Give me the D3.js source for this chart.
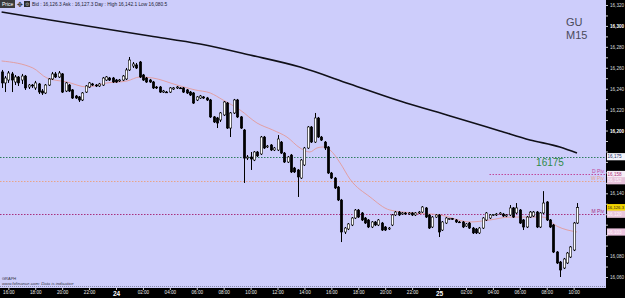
<!DOCTYPE html>
<html><head><meta charset="utf-8">
<script src="https://cdn.jsdelivr.net/npm/d3@7"></script>
<style>html,body{margin:0;padding:0;background:#000;overflow:hidden}svg{display:block;font-family:"Liberation Sans",Arial,sans-serif}</style>
</head><body><svg id="c" width="625" height="298"></svg>
<script>
// ---- data ----
const open=[16256.0,16245.5,16248.3,16254.1,16246.4,16251.2,16248.3,16252.1,16241.6,16243.5,
16240.7,16244.5,16237.8,16235.9,16243.5,16249.3,16254.1,16251.2,16254.1,16237.8,
16243.5,16238.8,16233.0,16232.1,16229.2,16236.8,16241.6,16244.5,16243.5,16242.6,
16243.5,16248.3,16250.2,16250.2,16248.3,16247.4,16248.3,16249.3,16257.9,16261.7,
16262.7,16265.5,16253.1,16250.2,16248.3,16246.4,16241.6,16241.6,16236.8,16236.8,
16236.8,16239.7,16240.7,16240.7,16240.7,16238.8,16236.8,16235.9,16229.2,16231.1,
16232.1,16231.1,16229.2,16213.0,16212.0,16210.1,16214.9,16226.3,16202.4,16216.8,
16229.2,16213.0,16200.5,16173.7,16174.7,16171.8,16179.5,16177.6,16193.8,16184.3,
16186.2,16181.4,16181.4,16189.0,16178.5,16169.9,16176.6,16164.2,16162.3,16154.6,
16167.1,16183.3,16203.4,16189.0,16212.0,16193.8,16189.0,16184.3,16159.4,16154.6,
16146.0,16133.6,16103.0,16105.9,16109.7,16116.4,16124.0,16121.2,16116.4,16114.5,
16107.8,16112.6,16109.7,16111.6,16107.8,16105.9,16109.7,16119.3,16122.1,16120.2,
16121.2,16120.2,16121.2,16119.3,16121.2,16122.1,16126.0,16119.3,16107.8,16117.3,
16119.3,16104.9,16111.6,16115.4,16115.9,16114.5,16112.6,16112.6,16108.7,16111.6,
16106.8,16105.9,16102.1,16106.8,16114.5,16116.4,16119.3,16119.3,16120.2,16120.2,
16118.3,16119.3,16126.0,16121.2,16124.0,16114.5,16107.8,16117.3,16118.3,16122.1,
16107.8,16121.2,16131.7,16114.5,16109.7,16083.9,16074.3,16068.6,16073.4,16079.1,
16085.8,16111.6];
const high=[16257.9,16252.1,16256.9,16256.0,16253.1,16252.1,16254.1,16253.1,16244.5,16244.5,
16247.4,16245.5,16239.7,16244.5,16250.2,16256.0,16256.0,16256.9,16255.0,16246.4,
16244.5,16239.7,16234.0,16233.0,16236.8,16243.5,16246.4,16245.5,16244.5,16245.5,
16251.2,16252.1,16251.2,16251.2,16249.3,16249.3,16253.1,16259.8,16270.3,16265.5,
16264.6,16266.5,16254.1,16251.2,16249.3,16247.4,16242.6,16242.6,16238.8,16237.8,
16241.6,16241.6,16242.6,16241.6,16241.6,16239.7,16237.8,16236.8,16233.0,16234.0,
16233.0,16232.1,16230.2,16213.9,16213.0,16217.7,16228.2,16227.3,16217.7,16230.2,
16230.2,16213.9,16201.5,16176.6,16179.5,16180.4,16180.4,16194.8,16194.8,16186.2,
16187.1,16184.3,16195.7,16190.0,16179.5,16175.7,16177.6,16165.2,16163.2,16172.8,
16184.3,16204.3,16204.3,16216.8,16213.0,16194.8,16190.0,16185.2,16160.4,16155.6,
16147.0,16134.6,16107.8,16111.6,16117.3,16125.0,16125.0,16122.1,16117.3,16115.4,
16113.5,16113.5,16115.4,16112.6,16108.7,16107.8,16120.2,16123.1,16123.1,16122.1,
16122.1,16122.1,16122.1,16122.1,16123.1,16127.8,16126.9,16120.2,16118.3,16120.2,
16120.2,16113.5,16117.3,16116.4,16116.4,16115.4,16113.5,16113.5,16111.6,16112.6,
16107.8,16106.8,16107.8,16117.3,16122.1,16120.2,16120.2,16121.2,16122.1,16121.2,
16120.2,16128.8,16126.9,16130.7,16125.0,16115.4,16118.3,16123.1,16123.1,16123.1,
16122.1,16142.1,16132.6,16115.4,16110.7,16084.8,16075.3,16078.2,16083.9,16089.6,
16112.6,16130.7];
const low=[16240.7,16236.8,16245.5,16236.8,16243.5,16242.6,16244.5,16238.8,16239.7,16240.7,
16238.8,16234.9,16234.0,16234.9,16242.6,16248.3,16250.2,16250.2,16235.9,16236.8,
16236.8,16230.2,16230.2,16227.3,16228.2,16235.9,16240.7,16242.6,16241.6,16241.6,
16242.6,16247.4,16247.4,16245.5,16245.5,16246.4,16247.4,16248.3,16256.9,16259.8,
16258.8,16250.2,16247.4,16245.5,16245.5,16239.7,16239.7,16235.9,16235.9,16235.9,
16235.9,16238.8,16239.7,16239.7,16235.9,16234.9,16233.0,16225.4,16228.2,16230.2,
16230.2,16228.2,16212.0,16207.2,16202.4,16208.2,16213.9,16201.5,16193.8,16215.8,
16212.0,16201.5,16149.9,16171.8,16162.3,16170.8,16174.7,16176.6,16182.4,16183.3,
16180.4,16180.4,16180.4,16177.6,16169.0,16169.0,16159.4,16159.4,16136.5,16153.7,
16166.1,16182.4,16188.1,16188.1,16192.9,16190.0,16181.4,16158.5,16153.7,16144.1,
16132.6,16093.4,16101.1,16104.9,16108.7,16115.4,16116.4,16113.5,16110.7,16106.8,
16106.8,16108.7,16108.7,16104.0,16104.0,16104.9,16108.7,16118.3,16118.3,16119.3,
16119.3,16119.3,16118.3,16118.3,16120.2,16121.2,16116.4,16105.9,16106.8,16116.4,
16098.2,16104.0,16110.7,16114.5,16114.5,16111.6,16111.6,16106.8,16107.8,16105.9,
16101.1,16101.1,16101.1,16105.9,16113.5,16115.4,16118.3,16118.3,16119.3,16117.3,
16117.3,16118.3,16116.4,16120.2,16110.7,16104.9,16106.8,16116.4,16117.3,16106.8,
16106.8,16120.2,16113.5,16106.8,16082.9,16072.4,16060.0,16067.6,16072.4,16078.2,
16084.8,16110.7];
const close=[16245.5,16250.2,16255.0,16248.3,16251.2,16245.5,16252.1,16240.7,16243.5,16242.6,
16245.5,16236.8,16235.9,16243.5,16249.3,16254.1,16251.2,16255.0,16236.8,16245.5,
16237.8,16231.1,16231.1,16229.2,16235.9,16242.6,16245.5,16243.5,16242.6,16244.5,
16250.2,16251.2,16248.3,16246.4,16246.4,16248.3,16252.1,16257.9,16267.4,16263.6,
16259.8,16251.2,16248.3,16246.4,16246.4,16240.7,16240.7,16236.8,16237.8,16236.5,
16240.7,16240.7,16241.6,16240.2,16236.8,16235.9,16234.0,16226.3,16232.1,16233.0,
16231.1,16229.2,16213.0,16208.2,16207.2,16216.8,16227.3,16202.4,16216.8,16229.2,
16213.0,16202.4,16173.7,16174.7,16172.8,16179.5,16175.7,16193.8,16183.3,16185.2,
16181.4,16183.3,16191.9,16178.5,16169.9,16174.7,16160.4,16160.4,16155.6,16171.8,
16183.3,16203.4,16189.0,16212.0,16193.8,16190.9,16183.3,16159.4,16154.6,16145.1,
16133.6,16103.0,16106.8,16110.7,16116.4,16124.0,16117.3,16114.5,16111.6,16107.8,
16112.6,16109.7,16114.5,16104.9,16104.9,16106.8,16119.3,16122.1,16119.3,16121.2,
16120.2,16121.2,16119.3,16121.2,16122.1,16126.9,16117.3,16106.8,16117.3,16119.3,
16103.0,16112.6,16116.4,16115.9,16115.4,16112.6,16112.2,16107.8,16110.7,16106.8,
16102.1,16102.1,16106.8,16116.4,16121.2,16119.3,16119.8,16120.2,16121.2,16118.3,
16119.3,16126.0,16117.3,16126.0,16111.6,16107.8,16117.3,16122.1,16122.1,16107.8,
16121.2,16130.7,16114.5,16107.8,16083.9,16073.4,16066.7,16077.2,16082.9,16088.7,
16111.6,16126.3];
const firstCandleHour=15.5, candleHours=0.25; // 15-minute bars starting 23rd 15:30

// moving averages (candle index, price)
const maFastIdx=[0,9.3,13.5,19.4,25.4,31.3,37.3,41.1,45,52.1,57.5,62,65.8,70.9,75.9,80.6,84.8,88.7,91.6,93.7,95.5,97.6,100.6,103.5,109.5,115.4,122.3,130.3,139.2,145.1,151.1,157,160.9,165.1,171];
const maFastVal=[16266.5,16259.8,16250.2,16246.4,16241.6,16245.5,16247.4,16251.2,16250.2,16243.5,16238.8,16235.9,16229.2,16219.6,16207.2,16200.5,16193.8,16183.3,16179.5,16183.3,16184.3,16181.4,16169.0,16153.7,16136.5,16124.0,16121.2,16119.3,16112.6,16114.5,16117.3,16117.3,16117.3,16108.5,16103.0];
const maSlowIdx=[0,14.4,29.2,44.1,59,73.8,88.7,103.5,118.4,133.3,148.1,157,165.9,171];
const maSlowVal=[16313.3,16305.7,16298.0,16290.4,16282.7,16272.2,16260.7,16244.5,16228.2,16213.9,16199.6,16191.0,16184.3,16178.5];

// levels
const levelNames=["16175","D Piv","W Piv","M Piv"];
const levelValues=[16175,16158,16152,16120];
const levelStartIdx=[0,145,0,0];

// axes
const timeTickHours=[16,18,20,22,24,26,28,30,32,34,36,38,40,42,44,46,48,50,52,54,56,58];
const timeTickLabels=["16:00","18:00","20:00","22:00","24","02:00","04:00","06:00","08:00","10:00","12:00","14:00","16:00","18:00","20:00","22:00","25","02:00","04:00","06:00","08:00","10:00"];
const priceTicks=[16320,16300,16280,16260,16240,16220,16200,16140,16080,16060];
const boxValues=[16175,16158,16152,16126.3,16120,16103];
const boxLabels=["16,175","16,158","16,152","16,126.3","16,120","16,103"];
const headerText="Bid : 16,126.3  Ask : 16,127.3   Day : High 16,142.1  Low 16,080.5";
const symbolLines=["GU","M15"];

// ---- drawing ----
const W=625,H=298,plotR=606,plotB=288;
const svg=d3.select('#c');
svg.append('rect').attr('width',W).attr('height',H).attr('fill','#000');
svg.append('rect').attr('x',0).attr('y',0).attr('width',plotR).attr('height',plotB).attr('fill','#cdcdfb');

const n=close.length;
const xh=d3.scaleLinear().domain([firstCandleHour,firstCandleHour+candleHours*(n-1)]).range([1.6,577]);
const xi=i=>xh(firstCandleHour+candleHours*i);
const y=d3.scaleLinear().domain([16060,16320]).range([277,5]);

// level lines
const lvlColor=["#2e7d5e","#c0489a","#e8a48a","#a8307e"];
const lg=svg.append('g');
levelValues.forEach((v,k)=>{
  lg.append('line').attr('x1',levelStartIdx[k]===0?0:xi(levelStartIdx[k])).attr('x2',plotR)
    .attr('y1',Math.round(y(v))+0.5).attr('y2',Math.round(y(v))+0.5)
    .attr('stroke',lvlColor[k]).attr('stroke-width',1).attr('stroke-dasharray','1.5,1.5');
  if(k>0){
    lg.append('text').attr('x',plotR-2).attr('y',y(v)-1.2).attr('text-anchor','end')
      .attr('font-size',5).attr('fill',lvlColor[k]).text(levelNames[k]);
  }
});
svg.append('text').attr('x',550).attr('y',y(16175)+9.5).attr('text-anchor','middle')
  .attr('font-size',10).attr('fill','#2f8a48').text(levelNames[0]);

// moving averages
const line=d3.line().x(d=>xi(d[0])).y(d=>y(d[1])).curve(d3.curveMonotoneX);
svg.append('path').datum(maFastIdx.map((d,i)=>[d,maFastVal[i]])).attr('d',line)
  .attr('fill','none').attr('stroke','#e39a98').attr('stroke-width',0.9);
svg.append('path').datum(maSlowIdx.map((d,i)=>[d,maSlowVal[i]])).attr('d',line)
  .attr('fill','none').attr('stroke','#101018').attr('stroke-width',1.6);

// candles
const cg=svg.append('g');
const bw=2.4;
close.forEach((c,i)=>{
  const o=open[i],cx=Math.round(xi(i))+0.5;
  cg.append('line').attr('x1',cx).attr('x2',cx).attr('y1',y(high[i])).attr('y2',y(low[i]))
    .attr('stroke','#000').attr('stroke-width',1);
  const top=y(Math.max(o,c)),bot=y(Math.min(o,c));
  cg.append('rect').attr('x',cx-bw/2).attr('y',top).attr('width',bw).attr('height',Math.max(0.8,bot-top))
    .attr('fill',c>=o?'#fff':'#000').attr('stroke','#000').attr('stroke-width',0.6);
});

// bottom dotted border and watermark text
svg.append('line').attr('x1',0).attr('x2',plotR).attr('y1',286.5).attr('y2',286.5)
  .attr('stroke','#8a8aa6').attr('stroke-width',1).attr('stroke-dasharray','1,1');
svg.append('text').attr('x',2).attr('y',280).attr('font-size',4).attr('fill','#334').text('GRAPH');
svg.append('text').attr('x',2).attr('y',285).attr('font-size',4.3).attr('fill','#334').attr('font-style','italic').text('www.fxfinance.com: Data is indicative');

// header
svg.append('rect').attr('x',0).attr('y',0).attr('width',15).attr('height',8).attr('fill','#3a3a3a');
svg.append('text').attr('x',2).attr('y',6).attr('font-size',5).attr('fill','#fff').text('Price');
svg.append('text').attr('x',17).attr('y',7).attr('font-size',7).attr('fill','#333').text('✥');
svg.append('rect').attr('x',24).attr('y',1).attr('width',6).attr('height',6).attr('fill','#2a2a2a');
svg.append('text').attr('x',25).attr('y',6).attr('font-size',5).attr('fill','#aaa').text('⚙');
svg.append('text').attr('x',32).attr('y',6).attr('font-size',4.8).attr('fill','#223').text(headerText);

// symbol label
symbolLines.forEach((s,k)=>svg.append('text').attr('x',566).attr('y',26+k*12.5).attr('font-size',11)
  .attr('fill','#4a4a5a').text(s));

// bottom axis
const xa=svg.append('g').attr('transform',`translate(0,${plotB})`)
  .call(d3.axisBottom(xh).tickValues(timeTickHours).tickFormat((d,i)=>timeTickLabels[i]).tickSize(2).tickPadding(1));
xa.select('.domain').remove();
xa.selectAll('line').attr('stroke','#ccc');
xa.selectAll('text').attr('fill','#eee').attr('font-size',4.6).attr('font-family','"Liberation Sans",Arial');
xa.selectAll('text').filter((d,i)=>timeTickLabels[i].length<3).attr('font-size',6.5).attr('font-weight','bold').attr('fill','#fff');

// right axis
const minor=d3.range(16060,16321,10);
const ya=svg.append('g').attr('transform',`translate(${plotR},0)`)
  .call(d3.axisRight(y).tickValues(minor).tickFormat(d=>priceTicks.includes(d)?d3.format(',')(d):'').tickSize(2).tickPadding(2));
ya.select('.domain').remove();
ya.selectAll('line').attr('stroke','#ccc');
ya.selectAll('text').attr('fill','#ddd').attr('font-size',4.6).attr('font-family','"Liberation Sans",Arial');
ya.selectAll('text').filter(d=>d%100===0).attr('font-weight','bold').attr('fill','#fff');

// value boxes
const boxFill=["#f4f4fa","#f6eef6","#e6c2da","#f2d400","#e8c6dc","#ecc6e0"];
const boxText=["#22306a","#b0307a","#fff4fa","#222","#fff4fa","#fff4fa"];
boxValues.forEach((v,k)=>{
  const yy=y(v);
  svg.append('rect').attr('x',607).attr('y',yy-3.6).attr('width',18).attr('height',7.2).attr('fill',boxFill[k]);
  const t=svg.append('text').attr('x',607.5).attr('y',yy+1.7).attr('font-size',4.6).attr('fill',boxText[k]).text(boxLabels[k]);
  if(boxLabels[k].length>6) t.attr('font-size',4.2).attr('textLength',16.5).attr('lengthAdjust','spacingAndGlyphs');
});
</script></body></html>
